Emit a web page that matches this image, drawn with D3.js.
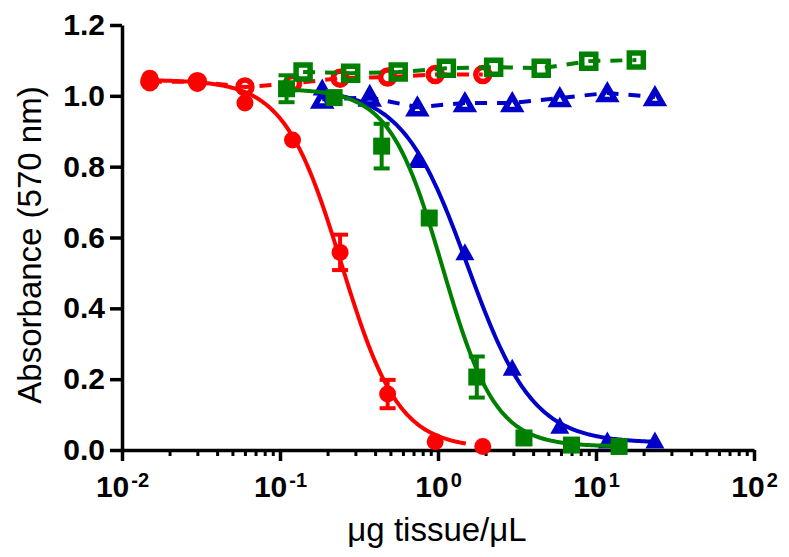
<!DOCTYPE html>
<html><head><meta charset="utf-8">
<script src="https://cdn.jsdelivr.net/npm/d3@7"></script>
<style>
html,body{margin:0;padding:0;background:#fff;}
svg{display:block;font-family:"Liberation Sans",Arial,sans-serif;}
</style></head>
<body><svg id="chart" width="789" height="557"></svg>
<script>
// ---- data ----
const redX      = [0.015, 0.03, 0.06, 0.12, 0.24, 0.48, 0.96, 1.92];
const redFilled = [1.05, 1.035, 0.98, 0.875, 0.558, 0.158, 0.023, 0.01];
const redFilledErr = [0, 0, 0, 0, 0.05, 0.04, 0, 0];
const redOpen   = [1.04, 1.04, 1.025, 1.035, 1.05, 1.053, 1.06, 1.06];

const greenX      = [0.11, 0.22, 0.44, 0.88, 1.76, 3.5, 7, 14];
const greenFilled = [1.02, 0.995, 0.858, 0.655, 0.206, 0.034, 0.014, 0.01];
const greenFilledErr = [0.038, 0, 0.063, 0, 0.058, 0, 0, 0];
const greenOpenX  = [0.14, 0.28, 0.56, 1.13, 2.25, 4.5, 9, 18];
const greenOpen   = [1.067, 1.064, 1.067, 1.078, 1.081, 1.078, 1.098, 1.101];

const blueX      = [0.185, 0.37, 0.74, 1.48, 2.95, 5.9, 11.8, 23.6];
const blueFilled = [1.025, 1.01, 0.82, 0.56, 0.234, 0.07, 0.028, 0.028];
const blueOpen   = [0.99, 0.995, 0.968, 0.98, 0.98, 0.994, 1.008, 0.997];

// four-parameter logistic fit parameters: [top, bottom, EC50, hill, xStart, xEnd]
const redFit   = [1.045, 0.005, 0.245, 2.4, 0.015, 1.5];
const greenFit = [1.02, 0.01, 1.07, 2.6, 0.11, 14];
const blueFit  = [1.02, 0.02, 1.54, 2.1, 0.185, 23.6];

const yTicks = [0, 0.2, 0.4, 0.6, 0.8, 1.0, 1.2];
const xMajor = [0.01, 0.1, 1, 10, 100];
const xExp   = ["-2", "-1", "0", "1", "2"];

const RED = "#ff0000", GREEN = "#008000", BLUE = "#0000c8";

// ---- scales ----
const svg = d3.select("#chart");
const x = d3.scaleLog().domain([0.01, 100]).range([122, 754]);
const y = d3.scaleLinear().domain([0, 1.2]).range([450, 25]);

// ---- axes ----
const yAxis = svg.append("g").attr("transform", "translate(122,0)")
  .call(d3.axisLeft(y).tickValues(yTicks).tickSize(12).tickSizeOuter(0).tickPadding(5)
        .tickFormat(d3.format(".1f")));
yAxis.selectAll("path,line").attr("stroke", "#000").attr("stroke-width", 3.5);
yAxis.selectAll("text").attr("font-size", 30).attr("font-weight", "bold").attr("fill", "#000");

const minor = [];
for (let e = -2; e < 2; e++) for (let m = 2; m <= 9; m++) minor.push(m * Math.pow(10, e));
const xMinorAxis = svg.append("g").attr("transform", "translate(0,450)")
  .call(d3.axisBottom(x).tickValues(minor).tickSize(6).tickSizeOuter(0).tickFormat(""));
xMinorAxis.selectAll("path").remove();
xMinorAxis.selectAll("line").attr("stroke", "#000").attr("stroke-width", 3);

const xAxis = svg.append("g").attr("transform", "translate(0,450)")
  .call(d3.axisBottom(x).tickValues(xMajor).tickSize(11).tickSizeOuter(0).tickFormat(""));
xAxis.selectAll("path,line").attr("stroke", "#000").attr("stroke-width", 3.5);
xAxis.selectAll("g.tick").each(function(d, i) {
  const t = d3.select(this).append("text").attr("y", 47).attr("text-anchor", "middle")
    .attr("fill", "#000").attr("font-weight", "bold").attr("font-size", 30);
  t.append("tspan").text("10");
  t.append("tspan").attr("dy", -10).attr("dx", 2).attr("font-size", 20).text(xExp[i]);
});

// titles
svg.append("text").attr("x", 437).attr("y", 541).attr("text-anchor", "middle")
  .attr("font-size", 33).attr("fill", "#000").text("μg tissue/μL");
svg.append("text").attr("transform", "translate(41,245) rotate(-90)").attr("text-anchor", "middle")
  .attr("font-size", 33).attr("fill", "#000").text("Absorbance (570 nm)");

// ---- helpers ----
const line = d3.line().x(d => x(d[0])).y(d => y(d[1]));
function fitCurve(p) {
  const [top, bot, ec, h, x0, x1] = p;
  const n = 200, l0 = Math.log10(x0), l1 = Math.log10(x1);
  return d3.range(n + 1).map(i => {
    const xv = Math.pow(10, l0 + (l1 - l0) * i / n);
    return [xv, bot + (top - bot) / (1 + Math.pow(xv / ec, h))];
  });
}
function triPath(w, hgt) {
  return `M0,${-hgt/2}L${w/2},${hgt/2}L${-w/2},${hgt/2}Z`;
}
function sqPath(s) { return `M${-s/2},${-s/2}h${s}v${s}h${-s}Z`; }

function drawDashed(xs, ys, color) {
  svg.append("path").datum(xs.map((v, i) => [v, ys[i]])).attr("d", line)
    .attr("fill", "none").attr("stroke", color).attr("stroke-width", 4)
    .attr("stroke-dasharray", "12,10");
}
function drawFit(p, color) {
  svg.append("path").datum(fitCurve(p)).attr("d", line)
    .attr("fill", "none").attr("stroke", color).attr("stroke-width", 4);
}
function drawErr(xs, ys, es, color) {
  const g = svg.append("g").attr("stroke", color).attr("stroke-width", 4);
  xs.forEach((v, i) => {
    if (!es[i]) return;
    const cx = x(v), t = y(ys[i] + es[i]), b = y(ys[i] - es[i]);
    g.append("line").attr("x1", cx).attr("x2", cx).attr("y1", t).attr("y2", b);
    g.append("line").attr("x1", cx - 8).attr("x2", cx + 8).attr("y1", t).attr("y2", t);
    g.append("line").attr("x1", cx - 8).attr("x2", cx + 8).attr("y1", b).attr("y2", b);
  });
}
function drawMarks(xs, ys, shape, color, open, sw) {
  svg.append("g").selectAll("path").data(xs.map((v, i) => [v, ys[i]])).join("path")
    .attr("transform", d => `translate(${x(d[0])},${y(d[1])})`)
    .attr("d", shape)
    .attr("fill", open ? "none" : color)
    .attr("stroke", color).attr("stroke-width", open ? sw : 0);
}
const circ = r => d3.symbol().type(d3.symbolCircle).size(Math.PI * r * r)();

// ---- red ----
drawDashed(redX, redOpen, RED);
drawMarks(redX, redOpen, circ(7), RED, true, 5.5);
drawFit(redFit, RED);
drawErr(redX, redFilled, redFilledErr, RED);
drawMarks(redX, redFilled, circ(8.5), RED, false);

// ---- blue ----
drawDashed(blueX, blueOpen, BLUE);
drawMarks(blueX, blueOpen, triPath(15, 13), BLUE, true, 5.5);
drawFit(blueFit, BLUE);
drawMarks(blueX, blueFilled, triPath(19, 17), BLUE, false);

// ---- green ----
drawDashed(greenOpenX, greenOpen, GREEN);
drawMarks(greenOpenX, greenOpen, sqPath(14), GREEN, true, 5.5);
drawFit(greenFit, GREEN);
drawErr(greenX, greenFilled, greenFilledErr, GREEN);
drawMarks(greenX, greenFilled, sqPath(17), GREEN, false);
</script></body></html>
